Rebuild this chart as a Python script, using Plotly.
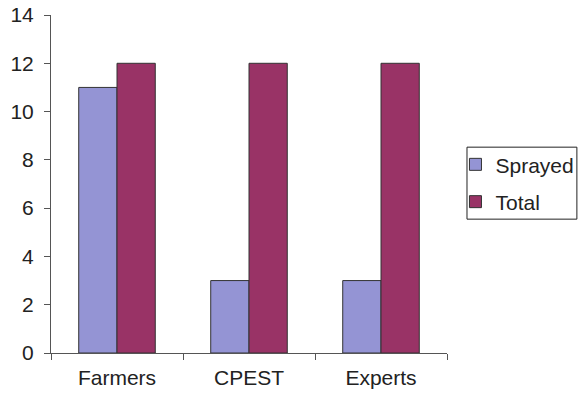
import plotly.graph_objects as go

categories = ["Farmers", "CPEST", "Experts"]
sprayed = [11, 3, 3]
total = [12, 12, 12]
y_ticks = [0, 2, 4, 6, 8, 10, 12, 14]

fig = go.Figure()
fig.add_trace(go.Bar(name="Sprayed", x=categories, y=sprayed, legendgroup="a",
                     marker=dict(color="#9494D4", line=dict(color="#333333", width=1))))
fig.add_trace(go.Bar(name="Total", x=categories, y=total, legendgroup="b",
                     marker=dict(color="#993366", line=dict(color="#333333", width=1))))

fig.update_layout(
    width=578, height=394,
    margin=dict(l=51, r=131, t=15, b=41, autoexpand=False),
    paper_bgcolor="white", plot_bgcolor="white",
    barmode="group", bargap=0.42, bargroupgap=0,
    font=dict(family="Liberation Sans, Arial", size=21, color="#222222"),
    showlegend=True,
    legend=dict(xref="container", yref="container", x=0.788, y=0.634,
                xanchor="left", yanchor="top",
                borderwidth=0, bgcolor="rgba(0,0,0,0)", traceorder="grouped",
                font=dict(size=21), tracegroupgap=7, itemwidth=30),
    shapes=[dict(type="rect", xref="paper", yref="paper",
                 x0=1.0505, x1=1.328, y0=0.396, y1=0.609,
                 line=dict(color="#222222", width=1), fillcolor="rgba(0,0,0,0)",
                 layer="below")],
    xaxis=dict(showline=True, linecolor="#555555", linewidth=1,
               ticks="outside", tickson="boundaries", ticklen=6, tickcolor="#555555",
               showgrid=False, tickfont=dict(size=21), ticklabelstandoff=6),
    yaxis=dict(range=[0, 14], tickvals=y_ticks, showline=True, linecolor="#555555",
               linewidth=1, ticks="outside", ticklen=6, tickcolor="#555555",
               showgrid=False, zeroline=False, tickfont=dict(size=21),
               ticklabelstandoff=6),
)

fig.write_html("out.html")
